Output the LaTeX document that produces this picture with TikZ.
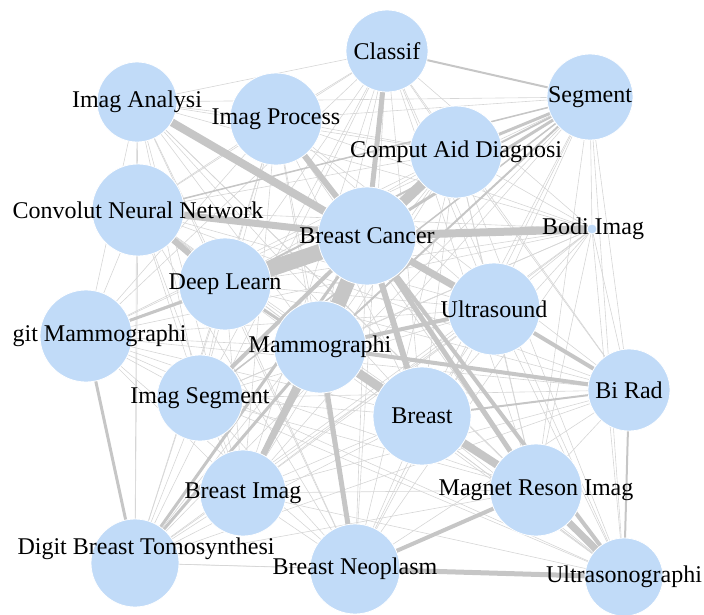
\documentclass[tikz,border=0pt]{standalone}
\usepackage{fontspec}
\setmainfont{Liberation Serif}
\usepackage{xcolor}
\usepackage{tikz}
\usetikzlibrary{backgrounds}
\definecolor{termblue}{RGB}{193,219,248}
\definecolor{linkgray}{RGB}{198,198,198}
\definecolor{faintgray}{RGB}{214,214,214}
\tikzstyle{term} = [circle, fill=termblue, draw=white, line width=0.8pt, inner sep=0pt]
\tikzstyle{link} = [draw=linkgray]
\tikzstyle{faint} = [draw=faintgray, line width=0.6pt]
\tikzstyle{every label} = [inner sep=0pt]

\begin{document}
\begin{tikzpicture}[x=1pt, y=-1pt, font=\fontsize{24}{28}\selectfont]
	\useasboundingbox (0,0) rectangle (704,614);

	\node (classif) [term, minimum size=82pt, label=center:Classif] at (387,51) {};
	\node (segment) [term, minimum size=86pt, label=center:Segment] at (590,97) {};
	\node (imganalysi) [term, minimum size=80pt, label=center:Imag Analysi] at (137,102) {};
	\node (imgprocess) [term, minimum size=92pt, label=center:Imag Process] at (276,119) {};
	\node (cad) [term, minimum size=92pt, label=center:Comput Aid Diagnosi] at (456,152) {};
	\node (cnn) [term, minimum size=92pt, label=center:Convolut Neural Network] at (138,210) {};
	\node (bcancer) [term, minimum size=98pt, label=center:Breast Cancer] at (367,236) {};
	\node (bodi) [term, minimum size=10pt, label={[xshift=1pt]center:Bodi Imag}] at (592,229) {};
	\node (deeplearn) [term, minimum size=92pt, label=center:Deep Learn] at (225,284) {};
	\node (ultrasound) [term, minimum size=92pt, label=center:Ultrasound] at (494,309) {};
	\node (dmammo) [term, minimum size=92pt, label={[xshift=-120pt]east:git Mammographi}] at (86,336) {};
	\node (mammo) [term, minimum size=92pt, label=center:Mammographi] at (320,347) {};
	\node (birad) [term, minimum size=82pt, label=center:Bi Rad] at (629,390) {};
	\node (imgseg) [term, minimum size=86pt, label=center:Imag Segment] at (200,398) {};
	\node (breast) [term, minimum size=98pt, label=center:Breast] at (422,416) {};
	\node (breastimg) [term, minimum size=86pt, label=center:Breast Imag] at (243,493) {};
	\node (mri) [term, minimum size=92pt, label=center:Magnet Reson Imag] at (536,490) {};
	\node (dbt) [term, minimum size=88pt, label={[xshift=11pt, yshift=14pt]center:Digit Breast Tomosynthesi}] at (135,563) {};
	\node (neoplasm) [term, minimum size=90pt, label=center:Breast Neoplasm] at (355,569) {};
	\node (usgraphi) [term, minimum size=78pt, label=center:Ultrasonographi] at (624,577) {};

	\begin{pgfonlayer}{background}
	% thin links between every pair of terms
	\foreach \a [count=\i] in {classif,segment,imganalysi,imgprocess,cad,cnn,bcancer,bodi,deeplearn,ultrasound,dmammo,mammo,birad,imgseg,breast,breastimg,mri,dbt,neoplasm,usgraphi}
		\foreach \b [count=\j] in {classif,segment,imganalysi,imgprocess,cad,cnn,bcancer,bodi,deeplearn,ultrasound,dmammo,mammo,birad,imgseg,breast,breastimg,mri,dbt,neoplasm,usgraphi}
			{\ifnum\i<\j \draw [faint] (\a.center) -- (\b.center); \fi}

	% stronger co-occurrence
	\foreach \a/\b/\w in {imganalysi/bcancer/8, cnn/bcancer/7, cnn/deeplearn/6, deeplearn/bcancer/16,
		imgprocess/bcancer/6, classif/bcancer/5, cad/bcancer/10, bcancer/bodi/8, bcancer/ultrasound/7,
		bcancer/mammo/15, bcancer/breast/6, bcancer/mri/5, bcancer/usgraphi/4, mammo/breast/9,
		mammo/breastimg/6, mammo/neoplasm/5, mammo/ultrasound/4, mammo/birad/4, breast/mri/8,
		mri/usgraphi/7, neoplasm/usgraphi/5, neoplasm/mri/4, ultrasound/birad/4, classif/segment/2,
		segment/cad/3, segment/bcancer/3, segment/deeplearn/2, segment/mammo/2, segment/cnn/1.5,
		segment/imgseg/1.5, dbt/dmammo/3, dbt/bcancer/3, dbt/mammo/3, dmammo/bcancer/3,
		imgseg/bcancer/4, deeplearn/mammo/3, breast/birad/2, usgraphi/birad/2, breastimg/bcancer/3}
		\draw [link, line width=\w pt] (\a.center) -- (\b.center);
	\end{pgfonlayer}
\end{tikzpicture}
\end{document}
